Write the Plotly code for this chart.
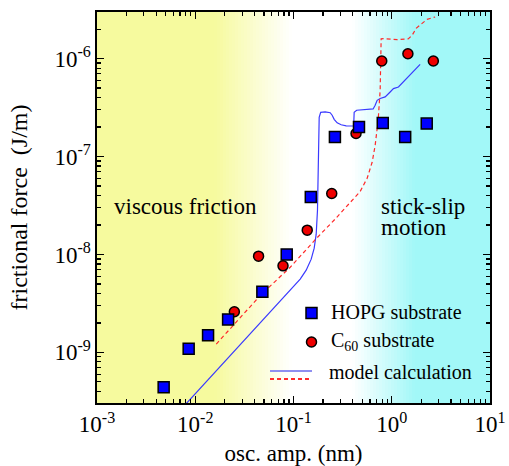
import plotly.graph_objects as go

# ---- data ----
hopg_x = [0.00477, 0.00857, 0.0135, 0.0216, 0.0482, 0.0853, 0.150, 0.264, 0.464, 0.81, 1.37, 2.27]
hopg_y = [4.4e-10, 1.09e-9, 1.5e-9, 2.17e-9, 4.16e-9, 1.0e-8, 3.87e-8, 1.58e-7, 2.0e-7, 2.2e-7, 1.58e-7, 2.17e-7]

c60_x = [0.0250, 0.0441, 0.0782, 0.138, 0.245, 0.433, 0.791, 1.46, 2.65]
c60_y = [2.6e-9, 9.6e-9, 7.65e-9, 1.77e-8, 4.19e-8, 1.72e-7, 9.46e-7, 1.12e-6, 9.46e-7]

model_hopg_x = [0.00810, 0.01524, 0.0338, 0.0732, 0.0926, 0.1170, 0.1346, 0.1514, 0.1624, 0.1702,
                0.1754, 0.1783, 0.1804, 0.1826, 0.1891, 0.2102, 0.2362, 0.2475, 0.2594, 0.2782,
                0.3056, 0.3437, 0.4097, 0.4145, 0.4394, 0.5362, 0.6465, 0.6778, 0.7102, 0.7621,
                0.8568, 0.9632, 1.041, 1.170, 1.315, 1.539, 1.945]
model_hopg_y = [3.0e-10, 6.01e-10, 1.43e-9, 3.34e-9, 4.32e-9, 5.60e-9, 6.91e-9, 8.95e-9, 1.16e-8, 1.61e-8,
                2.83e-8, 7.25e-8, 1.65e-7, 2.52e-7, 2.83e-7, 2.86e-7, 2.80e-7, 2.64e-7, 2.40e-7, 2.21e-7,
                2.11e-7, 2.06e-7, 2.05e-7, 2.83e-7, 2.97e-7, 3.00e-7, 3.06e-7, 3.34e-7, 3.75e-7, 3.91e-7,
                4.06e-7, 4.56e-7, 4.94e-7, 5.13e-7, 5.77e-7, 6.75e-7, 8.74e-7]

model_c60_x = [0.01636, 0.0469, 0.0926, 0.1702, 0.2656, 0.3774, 0.4772, 0.5621, 0.6319, 0.6778,
               0.7272, 0.7621, 0.7711, 0.7801, 0.8369, 1.135, 1.469, 1.613, 1.771, 1.991, 2.291, 2.764]
model_c60_y = [1.215e-9, 3.9e-9, 7.4e-9, 1.45e-8, 2.3e-8, 3.4e-8, 4.4e-8, 6.01e-8, 8.74e-8, 1.30e-7,
               2.35e-7, 4.75e-7, 9.61e-7, 1.592e-6, 1.60e-6, 1.56e-6, 1.59e-6, 1.73e-6, 2.04e-6, 2.27e-6,
               2.52e-6, 2.66e-6]

x_tickvals = [1e-3, 1e-2, 1e-1, 1e0, 1e1]
x_ticktext = ["10<sup>-3</sup>", "10<sup>-2</sup>", "10<sup>-1</sup>", "10<sup>0</sup>", "10<sup>1</sup>"]
y_tickvals = [1e-9, 1e-8, 1e-7, 1e-6]
y_ticktext = ["10<sup>-9</sup>", "10<sup>-8</sup>", "10<sup>-7</sup>", "10<sup>-6</sup>"]

legend_labels = ["HOPG substrate", "C<sub>60</sub> substrate", "model calculation"]

# ---- layout geometry ----
W, H = 509, 466
L, R, T, B = 97, 19, 12, 63
PW, PH = W - L - R, H - T - B
FONT = "'Liberation Serif', 'Times New Roman', serif"

def px2paper(px, py):
    return (px - L) / PW, (H - B - py) / PH

fig = go.Figure()

fig.add_trace(go.Scatter(x=model_hopg_x, y=model_hopg_y, mode="lines",
                         line=dict(color="#3a3aff", width=1.2), showlegend=False))
fig.add_trace(go.Scatter(x=model_c60_x, y=model_c60_y, mode="lines",
                         line=dict(color="#ff2a2a", width=1.2, dash="4px,3px"), showlegend=False))
fig.add_trace(go.Scatter(x=c60_x, y=c60_y, mode="markers",
                         marker=dict(symbol="circle", size=10, color="#ee0000",
                                     line=dict(color="black", width=1.5)), showlegend=False))
fig.add_trace(go.Scatter(x=hopg_x, y=hopg_y, mode="markers",
                         marker=dict(symbol="square", size=11, color="#0000ff",
                                     line=dict(color="black", width=1.5)), showlegend=False))

# ---- background gradient ----
yellow = (246, 250, 158)
white = (255, 255, 255)
cyan = (162, 248, 248)

def mix(a, b, t):
    return tuple(round(a[i] + (b[i] - a[i]) * t) for i in range(3))

def bg_color(px):
    if px < 215:
        return yellow
    if px < 292:
        return mix(yellow, white, (px - 215) / 77)
    if px < 352:
        return white
    if px < 415:
        return mix(white, cyan, (px - 352) / 63)
    return cyan

shapes = []
step = 3
px = L
while px < L + PW:
    x0 = (px - L) / PW
    x1 = min(1.0, (px + step + 0.6 - L) / PW)
    c = bg_color(px + step / 2)
    shapes.append(dict(type="rect", xref="paper", yref="paper", x0=x0, x1=x1, y0=0, y1=1,
                       fillcolor="rgb(%d,%d,%d)" % c, line=dict(width=0), layer="below"))
    px += step

# ---- custom legend ----
sx, sy = px2paper(311.5, 313)
shapes.append(dict(type="rect", xref="paper", yref="paper", xsizemode="pixel", ysizemode="pixel",
                   xanchor=sx, yanchor=sy, x0=-5.5, x1=5.5, y0=-5.5, y1=5.5,
                   fillcolor="#0000ff", line=dict(color="black", width=1.5)))
cx, cy = px2paper(311.5, 342)
shapes.append(dict(type="circle", xref="paper", yref="paper", xsizemode="pixel", ysizemode="pixel",
                   xanchor=cx, yanchor=cy, x0=-5, x1=5, y0=-5, y1=5,
                   fillcolor="#ee0000", line=dict(color="black", width=1.5)))
lx0, ly0 = px2paper(270, 371)
lx1, _ = px2paper(312, 371)
shapes.append(dict(type="line", xref="paper", yref="paper", x0=lx0, x1=lx1, y0=ly0, y1=ly0,
                   line=dict(color="#8f8ff0", width=2)))
_, ly1 = px2paper(270, 379)
shapes.append(dict(type="line", xref="paper", yref="paper", x0=lx0, x1=lx1, y0=ly1, y1=ly1,
                   line=dict(color="#ff2a2a", width=2, dash="4px,3px")))

annotations = []
for (tx, ty), label in zip([(331, 312), (331, 341), (329, 372)], legend_labels):
    ax, ay = px2paper(tx, ty)
    annotations.append(dict(x=ax, y=ay, xref="paper", yref="paper", text=label, showarrow=False,
                            xanchor="left", yanchor="middle", xshift=-2,
                            font=dict(family=FONT, size=20, color="black")))

for (tx, ty), label in zip([(114, 206), (381, 206), (381, 227)], ["viscous friction", "stick-slip", "motion"]):
    ax, ay = px2paper(tx, ty)
    annotations.append(dict(x=ax, y=ay, xref="paper", yref="paper", text=label, showarrow=False,
                            xanchor="left", yanchor="middle", xshift=-2,
                            font=dict(family=FONT, size=23, color="black")))

axis_common = dict(showgrid=False, zeroline=False, showline=True, linecolor="black", linewidth=1.6,
                   mirror="allticks", ticks="inside", ticklen=7, tickwidth=1.4, tickcolor="black",
                   automargin=False,
                   tickfont=dict(family=FONT, size=23, color="black"),
                   minor=dict(ticks="inside", ticklen=4, tickwidth=1.2, tickcolor="black",
                              dtick="D1", showgrid=False))

fig.update_layout(
    width=W, height=H,
    margin=dict(l=L, r=R, t=T, b=B),
    paper_bgcolor="white", plot_bgcolor="white",
    showlegend=False,
    font=dict(family=FONT, color="black"),
    shapes=shapes, annotations=annotations,
    xaxis=dict(type="log", range=[-3, 1], tickvals=x_tickvals, ticktext=x_ticktext,
               title=dict(text="osc. amp. (nm)", font=dict(family=FONT, size=23, color="black"), standoff=8),
               **axis_common),
    yaxis=dict(type="log", range=[-9.517, -5.524], tickvals=y_tickvals, ticktext=y_ticktext,
               title=dict(text="frictional force\u00a0 (J/m)", font=dict(family=FONT, size=24, color="black"),
                          standoff=20),
               **axis_common),
)

fig.write_html("out.html", config={"displayModeBar": False, "staticPlot": True},
               post_script="document.body.style.margin='0';document.body.style.padding='0';"
                           "document.body.style.overflow='hidden';")
